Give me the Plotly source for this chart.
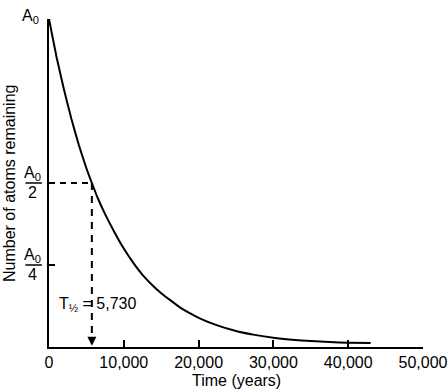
import plotly.graph_objects as go

# Data (fraction of A0 remaining)
years = [0, 1000, 2000, 3000, 4000, 5000, 5730, 6500, 7500, 8750, 10000,
         11250, 12500, 13750, 15000, 16250, 17500, 18750, 20000, 22500,
         25000, 27500, 30000, 32500, 35000, 37500, 40000, 43000]
remaining = [1.00, 0.885, 0.785, 0.695, 0.615, 0.545, 0.50, 0.455, 0.405, 0.35, 0.30,
             0.257, 0.22, 0.19, 0.164, 0.142, 0.121, 0.104, 0.089, 0.066,
             0.049, 0.037, 0.028, 0.022, 0.018, 0.015, 0.013, 0.012]
half_life = 5730
half_value = 0.5
x_ticks = [0, 10000, 20000, 30000, 40000, 50000]
x_ticktext = ["0", "10,000", "20,000", "30,000", "40,000", "50,000"]
y_ticks = [0.25, 0.5, 1.0]

FONT = "Arial, Liberation Sans, Helvetica, sans-serif"
FS = 16

fig = go.Figure()
fig.add_trace(go.Scatter(x=years, y=remaining, mode="lines",
                         line=dict(color="black", width=2, shape="spline", smoothing=0.4),
                         hoverinfo="skip", showlegend=False))
# dashed guide lines
fig.add_trace(go.Scatter(x=[0, half_life], y=[half_value, half_value], mode="lines",
                         line=dict(color="black", width=2, dash="6px,5px"),
                         showlegend=False, hoverinfo="skip"))
fig.add_trace(go.Scatter(x=[half_life, half_life], y=[half_value, 0.02], mode="lines",
                         line=dict(color="black", width=2, dash="7px,6px"),
                         showlegend=False, hoverinfo="skip"))

fig.add_annotation(x=half_life, y=0.004, ax=half_life, ay=0.035, xref="x", yref="y",
                   axref="x", ayref="y", text="", showarrow=True, arrowhead=2,
                   arrowsize=0.9, arrowwidth=2, arrowcolor="black", standoff=0)

fig.add_annotation(x=half_life, y=0.13, xref="x", yref="y", text="T<sub>½</sub> = 5,730",
                   showarrow=False, font=dict(family=FONT, size=FS, color="black"),
                   xanchor="left", xshift=-35)

# y tick labels as annotations
def frac_label(yv, denom):
    fig.add_annotation(x=-0.044, y=yv, xref="paper", yref="y", text="A<sub>0</sub>",
                       showarrow=False, yanchor="bottom", xanchor="center",
                       font=dict(family=FONT, size=FS, color="black"), yshift=-2)
    fig.add_annotation(x=-0.044, y=yv, xref="paper", yref="y", text=denom,
                       showarrow=False, yanchor="top", xanchor="center",
                       font=dict(family=FONT, size=FS, color="black"), yshift=1)
    fig.add_shape(type="line", xref="paper", yref="y", x0=-0.063, x1=-0.019,
                  y0=yv, y1=yv, line=dict(color="black", width=1.5))

frac_label(0.5, "2")
frac_label(0.25, "4")
fig.add_annotation(x=-0.022, y=1.0, xref="paper", yref="y", text="A<sub>0</sub>",
                   showarrow=False, xanchor="right", yanchor="middle", yshift=3,
                   font=dict(family=FONT, size=FS, color="black"))

# axis titles
fig.add_annotation(x=-0.107, y=0.5, xref="paper", yref="paper",
                   text="Number of atoms remaining", textangle=-90,
                   showarrow=False, xanchor="center", yanchor="middle",
                   font=dict(family=FONT, size=FS, color="black"))
fig.add_annotation(x=0.5, y=-0.102, xref="paper", yref="paper",
                   text="Time (years)", showarrow=False,
                   xanchor="center", yanchor="middle",
                   font=dict(family=FONT, size=FS, color="black"))

fig.update_layout(
    width=448, height=392,
    margin=dict(l=49, r=25, t=19, b=45),
    plot_bgcolor="white", paper_bgcolor="white",
    font=dict(family=FONT, size=FS, color="black"),
    xaxis=dict(range=[0, 50000], tickvals=x_ticks, ticktext=x_ticktext,
               ticks="inside", ticklen=7, tickwidth=2, tickcolor="black",
               showline=True, linecolor="black", linewidth=2, showgrid=False,
               zeroline=False, automargin=False,
               tickfont=dict(family=FONT, size=FS, color="black")),
    yaxis=dict(range=[0, 1], tickvals=y_ticks, showticklabels=False,
               ticks="inside", ticklen=6, tickwidth=2, tickcolor="black",
               showline=True, linecolor="black", linewidth=2, showgrid=False,
               zeroline=False, automargin=False),
)

fig.write_html("out.html", config={"displayModeBar": False},
               post_script="document.body.style.margin='0';document.body.style.overflow='hidden';")
